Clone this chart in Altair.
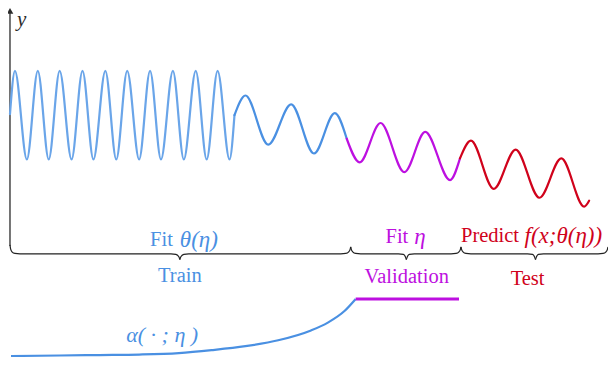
import altair as alt
import pandas as pd

# ---- data (reference pixel coordinates) ----
# high-frequency train part
fast_x = [10, 15, 27, 38, 49, 60, 72, 83, 94, 106, 117, 128, 140, 151, 162,
          174, 185, 197, 208, 219, 231, 236]
fast_y = [113, 69, 159, 69, 159, 69, 159, 69, 159, 69, 159, 69, 159, 69, 159,
          69, 159, 69, 159, 69, 159, 114]
# low-frequency train part
train_x = [236, 247, 270, 293, 316, 337, 349]
train_y = [114, 94, 144, 103, 153, 112, 138]
# validation part
valid_x = [349, 362, 383, 407, 428, 453, 463]
valid_y = [138, 162, 122, 172, 131, 180, 158]
# test part
test_x = [463, 474, 497, 519, 543, 565, 588, 593]
test_y = [158, 140, 189, 149, 198, 158, 207, 201]

# alpha(.; eta) curve and flat validation level
alpha_x = [11, 60, 100, 140, 180, 213, 247, 280, 313, 330, 347, 358]
alpha_y = [359, 358.5, 358, 357.5, 356, 353, 349, 343, 333, 325, 313, 301]
flat_x = [358, 462]
flat_y = [301, 301]

# braces (each half brace, from end to tip)
brace_pieces = {
    "b1L": ([10, 10.6, 12, 15, 20, 172, 177, 180, 181],
            [246, 250, 253, 254.6, 255, 255, 255.6, 258, 261]),
    "b1R": ([181, 182, 185, 190, 343, 348, 351, 352.4, 353],
            [261, 258, 255.6, 255, 255, 254.6, 253, 250.5, 248]),
    "b2L": ([353, 353.6, 355, 358, 363, 401, 406, 408, 409],
            [248, 250.5, 253, 254.6, 255, 255, 255.6, 258, 261]),
    "b2R": ([409, 410, 412, 417, 454, 459, 462, 463.4, 464],
            [261, 258, 255.6, 255, 255, 254.6, 253, 250.5, 248]),
    "b3L": ([464, 464.6, 466, 469, 474, 531, 536, 538, 539],
            [248, 250.5, 253, 254.6, 255, 255, 255.6, 258, 261]),
    "b3R": ([539, 540, 542, 547, 602, 607, 610, 611.4, 612],
            [261, 258, 255.6, 255, 255, 254.6, 253, 250.5, 248]),
}

# axis
axis_x = [10]
axis_top = [10]
axis_bottom = [247]
arrow_x = [10]
arrow_y = [8]

# labels
up_text = ["Fit", "Train", "Fit", "Validation", "Predict", "Test"]
up_x = [151, 159, 388, 367, 464, 514]
up_y = [241, 278, 238, 279, 237, 281]
up_grp = ["train", "train", "valid", "valid", "test", "test"]

it_text = ["θ(η)", "η", "f(x;θ(η))", "α( · ; η )", "y"]
it_x = [181, 417, 528, 127, 17]
it_y = [241, 238, 237, 338, 17]
it_grp = ["train", "valid", "test", "train", "axis"]
it_big = ["m", "m", "m", "s", "y"]

# ---- styling ----
LIGHT = "#6aa5e9"
BLUE = "#4a90e2"
PURPLE = "#bd10e0"
RED = "#d0021b"
DARK = "#2b2b2b"
SERIF = "Liberation Serif"

grp_domain = ["fast", "train", "valid", "test", "axis"]
grp_range = [LIGHT, BLUE, PURPLE, RED, DARK]
color_scale = alt.Scale(domain=grp_domain, range=grp_range)

xs = alt.Scale(domain=[8, 612], nice=False, zero=False)
ys = alt.Scale(domain=[5, 360], reverse=True, nice=False, zero=False)
X = alt.X("x:Q", scale=xs, axis=None)
Y = alt.Y("y:Q", scale=ys, axis=None)


def frame(xv, yv, grp):
    return pd.DataFrame({"x": xv, "y": yv, "grp": grp, "o": list(range(len(xv)))})


curve_df = pd.concat([
    frame(fast_x, fast_y, "fast"),
    frame(train_x, train_y, "train"),
    frame(valid_x, valid_y, "valid"),
    frame(test_x, test_y, "test"),
])

alpha_df = frame(alpha_x, alpha_y, "train")
flat_df = frame(flat_x, flat_y, "valid")

brace_df = pd.concat([
    pd.DataFrame({"x": bx, "y": by, "piece": k, "o": list(range(len(bx)))})
    for k, (bx, by) in brace_pieces.items()
])

curve = alt.Chart(curve_df).mark_line(
    interpolate="monotone", strokeWidth=2.2, strokeCap="round"
).encode(
    x=X, y=Y, order="o:Q",
    color=alt.Color("grp:N", scale=color_scale, legend=None),
    detail="grp:N",
)

alpha_line = alt.Chart(alpha_df).mark_line(
    interpolate="monotone", strokeWidth=2.2, color=BLUE
).encode(x=X, y=Y, order="o:Q")

flat_line = alt.Chart(flat_df).mark_line(strokeWidth=3, color=PURPLE).encode(
    x=X, y=Y, order="o:Q"
)

braces = alt.Chart(brace_df).mark_line(
    interpolate="monotone", strokeWidth=1.2, color="#222222"
).encode(x=X, y=Y, order="o:Q", detail="piece:N")

axis_df = pd.DataFrame({"x": axis_x, "y": axis_top, "y2": axis_bottom})
axis_rule = alt.Chart(axis_df).mark_rule(strokeWidth=1.3, color=DARK).encode(
    x=X, y=Y, y2="y2:Q"
)

arrow_df = pd.DataFrame({"x": arrow_x, "y": arrow_y})
arrow = alt.Chart(arrow_df).mark_point(
    shape="triangle-up", filled=True, size=45, color=DARK, opacity=1
).encode(x=X, y=Y)

up_df = pd.DataFrame({"x": up_x, "y": up_y, "t": up_text, "grp": up_grp})
up_labels = alt.Chart(up_df).mark_text(
    align="left", baseline="middle", font=SERIF, fontSize=20.5
).encode(
    x=X, y=Y, text="t:N",
    color=alt.Color("grp:N", scale=color_scale, legend=None),
)

it_df = pd.DataFrame({"x": it_x, "y": it_y, "t": it_text, "grp": it_grp,
                      "k": it_big})
it_labels = alt.Chart(it_df).mark_text(
    align="left", baseline="middle", font=SERIF, fontStyle="italic"
).encode(
    x=X, y=Y, text="t:N",
    color=alt.Color("grp:N", scale=color_scale, legend=None),
    size=alt.Size("k:N", scale=alt.Scale(domain=["m", "s", "y"],
                                         range=[23, 21, 19]), legend=None),
)

chart = alt.layer(
    braces, axis_rule, arrow, curve, alpha_line, flat_line, up_labels, it_labels
).properties(
    width=600, height=349, padding=0,
    autosize=alt.AutoSizeParams(type="none"),
).configure_view(stroke=None)

chart.save("out.html", embed_options={"renderer": "svg", "actions": False})
